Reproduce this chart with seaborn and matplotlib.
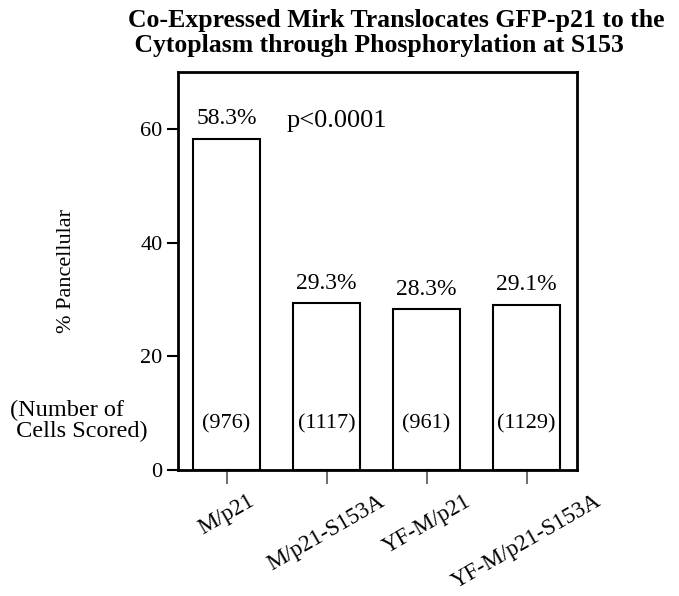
import matplotlib
matplotlib.use("Agg")
import matplotlib.pyplot as plt
import seaborn as sns
import pandas as pd

# values
groups = ["M/p21", "M/p21-S153A", "YF-M/p21", "YF-M/p21-S153A"]
pct_pancellular = [58.3, 29.3, 28.3, 29.1]
cells_scored = [976, 1117, 961, 1129]
p_text = "p<0.0001"
title_lines = ["Co-Expressed Mirk Translocates GFP-p21 to the",
               " Cytoplasm through Phosphorylation at S153"]

df = pd.DataFrame({"group": groups, "pct": pct_pancellular, "n": cells_scored})

sns.set_style("ticks", {"text.color": "black", "axes.labelcolor": "black",
                        "xtick.color": "black", "ytick.color": "black",
                        "axes.edgecolor": "black"})
plt.rcParams["font.family"] = ["Liberation Serif", "DejaVu Serif"]

fig = plt.figure(figsize=(6.79, 5.96), dpi=100)
ax = fig.add_axes([178 / 679, 1 - 470 / 596, 399 / 679, 398 / 596])

sns.barplot(data=df, x="group", y="pct", color="white", edgecolor="black",
            linewidth=1.5, width=0.67, saturation=1, ax=ax)

ax.set_ylim(0, 70)
ax.set_xlim(-0.485, 3.505)
ax.set_yticks([0, 20, 40, 60])
ax.set_xlabel("")
ax.set_ylabel("% Pancellular", fontsize=16, color="black")
ax.yaxis.set_label_coords(-0.255, 0.5)

for s in ax.spines.values():
    s.set_visible(True)
    s.set_linewidth(2)
    s.set_color("black")

ax.tick_params(axis="y", direction="out", length=8, width=1.5, labelsize=16, pad=3,
               color="black", labelcolor="black")
ax.tick_params(axis="x", direction="out", length=10, width=1.2, color="#555555",
               labelsize=16.5, pad=5, labelcolor="black")
plt.setp(ax.get_xticklabels(), rotation=30)

for i, (v, n) in enumerate(zip(pct_pancellular, cells_scored)):
    ax.text(i, v + 1.6, f"{v:.1f}%", ha="center", va="bottom", fontsize=17, color="black")
    ax.text(i, 8.2, f"({n})", ha="center", va="center", fontsize=16, color="black")

ax.text(0.605, 61.4, p_text, ha="left", va="center", fontsize=19, color="black")

fig.text(10 / 679, 1 - 421 / 596, "(Number of\n Cells Scored)", ha="left",
         va="center", fontsize=17.5, linespacing=0.95, color="black")

# two title lines, placed by baseline
for line, base_y in zip(title_lines, [27, 52]):
    fig.text(128 / 679, 1 - base_y / 596, line, ha="left", va="baseline",
             fontsize=18.5, fontweight="bold", color="black")

fig.savefig("out.png", dpi=100)
